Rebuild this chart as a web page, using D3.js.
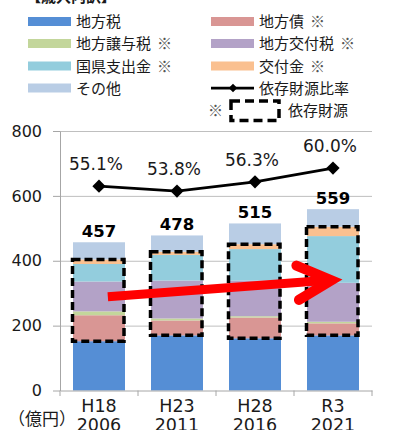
<!DOCTYPE html>
<html><head><meta charset="utf-8">
<script src="https://cdn.jsdelivr.net/npm/d3@7"></script>
<style>
html,body{margin:0;padding:0;background:#fff;}
svg{display:block;}
</style></head>
<body>
<svg id="c" width="393" height="430"></svg>
<script>
// ---- data ----
const categories = ["H18","H23","H28","R3"];
const years = ["2006","2011","2016","2021"];
const seriesNames = ["地方税","地方債","地方譲与税","地方交付税","国県支出金","交付金","その他"];
const chihoZei   = [152,170,161,170];
const chihoSai   = [80,46,64,37];
const joyoZei    = [12,6,4,5];
const kofuZei    = [92,117,110,120];
const shishutsu  = [54,79,97,144];
const kofukin    = [14,10,15,29];
const sonota     = [53,50,64,54];
const totals     = [457,478,515,559];
const ratio      = [55.1,53.8,56.3,60.0];
const yTicks     = [0,200,400,600,800];
const dependent  = [false,true,true,true,true,true,false];
const colors = ["#558ED5","#D99694","#C3D69B","#B3A2C7","#93CDDD","#FAC090","#B9CDE5"];

const seriesValues = [chihoZei,chihoSai,joyoZei,kofuZei,shishutsu,kofukin,sonota];
const rows = categories.map((c,i)=>{
  const r = {cat:c};
  seriesNames.forEach((s,k)=> r[s]=seriesValues[k][i]);
  return r;
});

const svg = d3.select("#c");
const NUM = "'DejaVu Sans','Noto Sans CJK JP',sans-serif";
const JP = "'Noto Sans CJK JP','DejaVu Sans',sans-serif";
const TXT = "#1a1a1a";

const x = d3.scaleBand().domain(categories).range([60,372]).paddingInner(1/3).paddingOuter(1/6);
const y = d3.scaleLinear().domain([0,800]).range([390.5,131]);
const y2 = d3.scaleLinear().domain([0,70]).range([390.5,131]);
const bw = x.bandwidth();

// cut-off title
svg.append("text").attr("x",26).attr("y",2).attr("font-family",JP).attr("font-size",15)
  .attr("fill",TXT).attr("font-weight","bold").text("【歳入内訳】");

// grid
const grid = svg.append("g").attr("transform","translate(60,0)")
  .call(d3.axisLeft(y).tickValues(yTicks.filter(v=>v>0)).tickSize(-312).tickFormat(""));
grid.select(".domain").remove();
grid.selectAll("line").attr("stroke","#bfbfbf").attr("stroke-width",1);

// y axis
const ya = svg.append("g").attr("transform","translate(60,0)")
  .call(d3.axisLeft(y).tickValues(yTicks).tickSize(7).tickPadding(11).tickSizeOuter(0));
ya.select(".domain").attr("stroke","#a6a6a6");
ya.selectAll("line").attr("stroke","#a6a6a6");
ya.selectAll("text").attr("font-family",NUM).attr("font-size",16).attr("fill",TXT);

// stacked bars
const stack = d3.stack().keys(seriesNames)(rows);
svg.append("g").selectAll("g").data(stack).join("g")
  .attr("fill",(d,i)=>colors[i])
  .selectAll("rect").data(d=>d).join("rect")
  .attr("x",d=>x(d.data.cat)).attr("width",bw)
  .attr("y",d=>y(d[1])).attr("height",d=>y(d[0])-y(d[1]));

// x axis
const xa = svg.append("g").attr("transform","translate(0,390.5)")
  .call(d3.axisBottom(x).tickSize(0).tickFormat(""));
xa.select(".domain").attr("stroke","#a6a6a6");
const bounds = categories.map(c=>x(c)-x.step()*x.paddingInner()/2).concat([x(categories[3])+bw+x.step()*x.paddingInner()/2]);
svg.append("g").selectAll("line").data(bounds).join("line")
  .attr("x1",d=>d).attr("x2",d=>d).attr("y1",390.5).attr("y2",396)
  .attr("stroke","#a6a6a6");
const xl = svg.append("g").selectAll("text").data(categories).join("text")
  .attr("x",d=>x(d)+bw/2).attr("text-anchor","middle")
  .attr("font-family",NUM).attr("font-size",17.5).attr("fill",TXT);
xl.append("tspan").attr("x",d=>x(d)+bw/2).attr("y",412).text(d=>d);
xl.append("tspan").attr("x",d=>x(d)+bw/2).attr("y",430.5).text((d,i)=>years[i]);
svg.append("text").attr("x",8).attr("y",424.5).attr("font-family",JP).attr("font-size",17)
  .attr("fill",TXT).text("（億円）");

// dependent-source dashed boxes
const depLo = stack[seriesNames.indexOf("地方債")];
const depHi = stack[seriesNames.indexOf("交付金")];
svg.append("g").selectAll("rect").data(categories).join("rect")
  .attr("x",d=>x(d)-0.5).attr("width",bw-0.5)
  .attr("y",(d,i)=>y(depHi[i][1])).attr("height",(d,i)=>y(depLo[i][0])-y(depHi[i][1]))
  .attr("fill","none").attr("stroke","#000").attr("stroke-width",3.5)
  .attr("stroke-dasharray","8,4");

// red arrow
const ax0 = x(categories[0])+bw*0.67, ay0 = y(289);
const ax1 = x(categories[3])+bw*0.47, ay1 = y(340);
const ang = Math.atan2(ay1-ay0, ax1-ax0);
const L = 38, spread = 0.47;
const up = [ax1-L*Math.cos(ang-spread), ay1-L*Math.sin(ang-spread)];
const lo = [ax1-L*Math.cos(ang+spread), ay1-L*Math.sin(ang+spread)];
svg.append("line").attr("x1",ax0).attr("y1",ay0).attr("x2",ax1-4).attr("y2",ay1)
  .attr("stroke","#ff0000").attr("stroke-width",9);
svg.append("path").attr("d",`M${up[0]},${up[1]}L${ax1},${ay1}L${lo[0]},${lo[1]}`)
  .attr("fill","none").attr("stroke","#ff0000").attr("stroke-width",10)
  .attr("stroke-linecap","round").attr("stroke-linejoin","miter");

// totals
svg.append("g").selectAll("text").data(totals).join("text")
  .attr("x",(d,i)=>x(categories[i])+bw/2).attr("y",d=>y(d)-5)
  .attr("text-anchor","middle").attr("font-family",NUM).attr("font-weight","bold")
  .attr("font-size",16.5).attr("fill","#000").text(d=>d);

// ratio line
const lineGen = d3.line().x((d,i)=>x(categories[i])+bw/2).y(d=>y2(d));
svg.append("path").datum(ratio).attr("d",lineGen).attr("fill","none")
  .attr("stroke","#000").attr("stroke-width",2.75);
const diamond = d3.symbol(d3.symbolSquare,88);
svg.append("g").selectAll("path").data(ratio).join("path")
  .attr("d",diamond)
  .attr("transform",(d,i)=>`translate(${x(categories[i])+bw/2},${y2(d)}) rotate(45)`)
  .attr("fill","#000");
svg.append("g").selectAll("text").data(ratio).join("text")
  .attr("x",(d,i)=>x(categories[i])+bw/2-3).attr("y",d=>y2(d)-16)
  .attr("text-anchor","middle").attr("font-family",NUM).attr("font-size",17)
  .attr("fill",TXT).text(d=>d.toFixed(1)+"%");

// legend
const lg = svg.append("g").attr("font-family",JP).attr("font-size",15).attr("fill",TXT);
const rowY = [21.5,43.5,66,88,110];
const colX = [28,211];
seriesNames.forEach((s,i)=>{
  const cx = colX[i%2], cy = rowY[Math.floor(i/2)];
  lg.append("rect").attr("x",cx).attr("y",cy-4.5).attr("width",43).attr("height",9).attr("fill",colors[i]);
  const t = lg.append("text").attr("x",cx+48).attr("y",cy).attr("dy","0.38em");
  t.append("tspan").text(s);
  if(dependent[i]) t.append("tspan").attr("dx",6).attr("fill","#555").text("※");
});
// line legend
lg.append("line").attr("x1",211).attr("x2",254).attr("y1",rowY[3]).attr("y2",rowY[3])
  .attr("stroke","#000").attr("stroke-width",2.75);
lg.append("path").attr("d",d3.symbol(d3.symbolSquare,36))
  .attr("transform",`translate(233,${rowY[3]}) rotate(45)`).attr("fill","#000");
lg.append("text").attr("x",259).attr("y",rowY[3]).attr("dy","0.38em").text("依存財源比率");
// dashed-box legend
lg.append("text").attr("x",208).attr("y",rowY[4]).attr("dy","0.38em").attr("fill","#555").text("※");
lg.append("rect").attr("x",231).attr("y",101).attr("width",48).attr("height",19.5)
  .attr("fill","none").attr("stroke","#000").attr("stroke-width",3.5).attr("stroke-dasharray","9,5");
lg.append("text").attr("x",288).attr("y",rowY[4]).attr("dy","0.38em").text("依存財源");
</script>
</body></html>
